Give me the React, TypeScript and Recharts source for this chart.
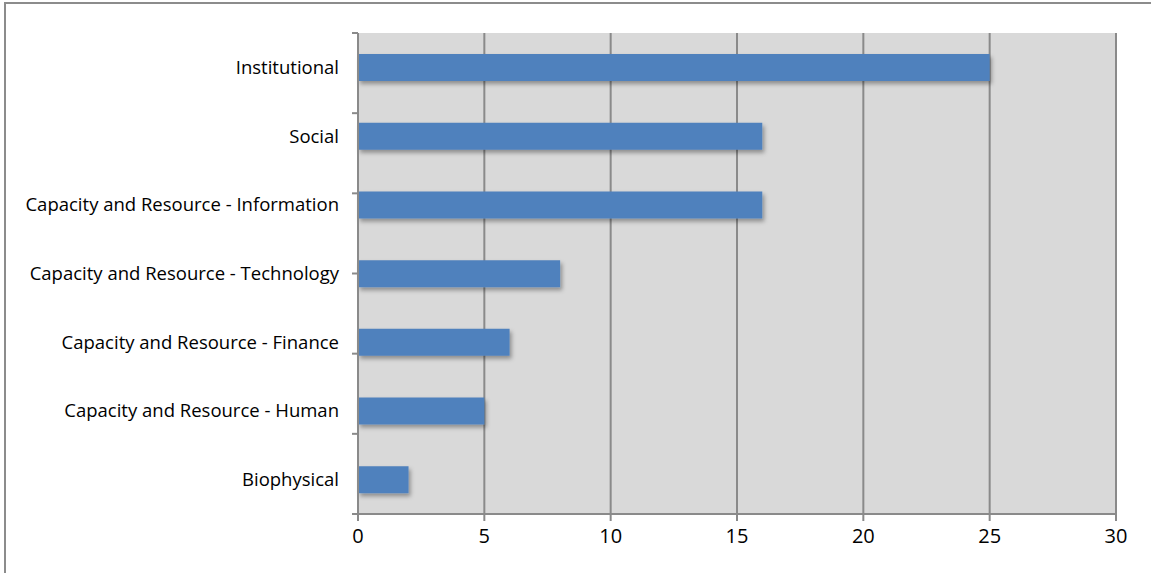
import { Bar, BarChart, CartesianGrid, Rectangle, XAxis, YAxis } from "recharts";

const categories = [
  "Institutional",
  "Social",
  "Capacity and Resource - Information",
  "Capacity and Resource - Technology",
  "Capacity and Resource - Finance",
  "Capacity and Resource - Human",
  "Biophysical",
];
const counts = [25, 16, 16, 8, 6, 5, 2];
const xTicks = [0, 5, 10, 15, 20, 25, 30];
const bandTicks = [0, 1, 2, 3, 4, 5, 6, 7];

const data = categories.map((name, i) => ({ name, value: counts[i] }));

const AXIS = "#8a8a8a";
const FONT = "'Open Sans', Lato, sans-serif";

function ShadowBar(props: any) {
  return <Rectangle {...props} filter="url(#barShadow)" />;
}

export default function App() {
  return (
    <div
      style={{
        position: "absolute",
        left: 0,
        top: 0,
        width: 1151,
        height: 573,
        overflow: "hidden",
        background: "#fff",
        fontFamily: FONT,
      }}
    >
      <svg width={0} height={0} style={{ position: "absolute" }}>
        <defs>
          <filter id="barShadow" x="-10%" y="-30%" width="130%" height="180%">
            <feDropShadow dx={2} dy={3} stdDeviation={2} floodColor="#000" floodOpacity={0.35} />
          </filter>
        </defs>
      </svg>
      <div
        style={{
          position: "absolute",
          left: 4,
          top: 2,
          width: 1170,
          height: 620,
          border: "2px solid #8c8c8c",
          boxSizing: "border-box",
        }}
      />
      <div style={{ position: "absolute", left: 0, top: 0 }}>
        <BarChart
          width={1151}
          height={573}
          data={data}
          layout="vertical"
          barSize={27}
          margin={{ top: 33, right: 35, bottom: 19, left: 0 }}
        >
          <CartesianGrid
            horizontal={false}
            fill="#d9d9d9"
            fillOpacity={1}
            stroke={AXIS}
            strokeWidth={2}
            xAxisId="x"
            yAxisId="cat"
          />
          <XAxis
            xAxisId="x"
            type="number"
            domain={[0, 30]}
            ticks={xTicks}
            interval={0}
            height={40}
            tickSize={7}
            tickMargin={8}
            axisLine={{ stroke: AXIS, strokeWidth: 2 }}
            tickLine={{ stroke: AXIS, strokeWidth: 2 }}
            tick={{ fill: "#000", fontSize: 20, fontFamily: FONT }}
          />
          <YAxis
            yAxisId="band"
            type="number"
            domain={[0, 7]}
            ticks={bandTicks}
            interval={0}
            allowDataOverflow
            width={8}
            tickSize={6}
            tickFormatter={() => ""}
            axisLine={{ stroke: AXIS, strokeWidth: 2 }}
            tickLine={{ stroke: AXIS, strokeWidth: 2 }}
          />
          <YAxis
            yAxisId="cat"
            type="category"
            dataKey="name"
            width={350}
            axisLine={false}
            tickLine={false}
            tickSize={0}
            tickMargin={11}
            interval={0}
            tick={{ fill: "#000", fontSize: 18.5, fontFamily: FONT }}
          />
          <Bar
            dataKey="value"
            xAxisId="x"
            yAxisId="cat"
            fill="#4f81bd"
            shape={ShadowBar}
            isAnimationActive={false}
          />
        </BarChart>
      </div>
    </div>
  );
}
